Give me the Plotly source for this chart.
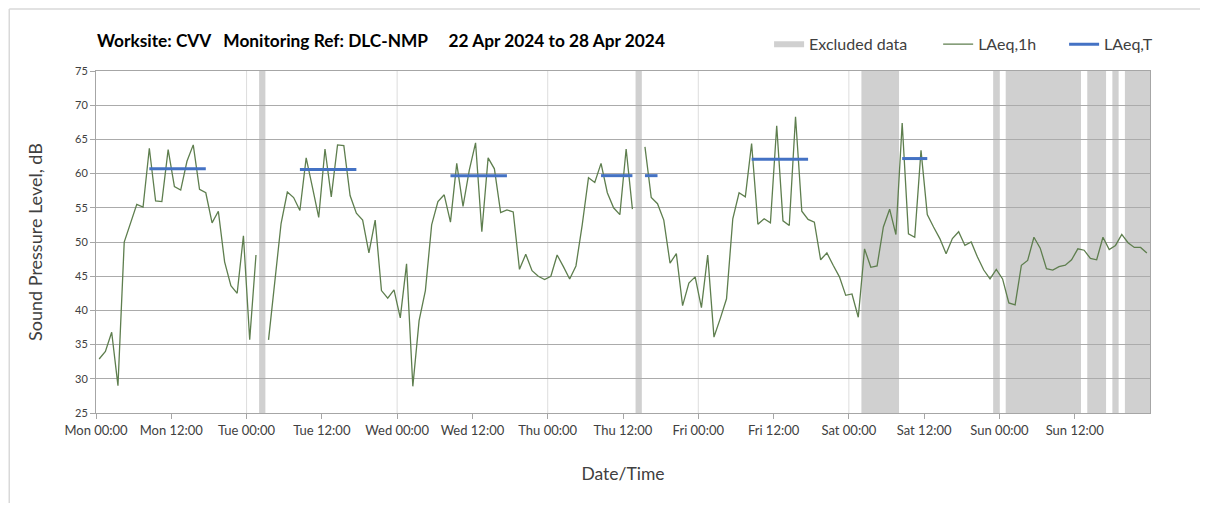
import plotly.graph_objects as go

# ---------------- data ----------------
# hourly LAeq,1h values, Mon 22 Apr 2024 00:00 .. Sun 28 Apr 2024 23:00 (None = excluded / missing)
hour_index = list(range(168))
laeq_1h = [
    32.9, 34.0, 36.8, 29.0, 50.0, 52.8, 55.5, 55.1, 63.7, 56.0, 55.9, 63.5,
    58.1, 57.6, 61.8, 64.2, 57.7, 57.2, 52.8, 54.5, 47.1, 43.6, 42.5, 50.9,
    35.7, 48.1, None, 35.7, 44.0, 52.7, 57.3, 56.5, 54.6, 62.3, 58.0, 53.6,
    63.6, 56.6, 64.2, 64.1, 56.8, 54.2, 53.2, 48.4, 53.2, 42.9, 41.8, 43.0,
    38.9, 46.8, 28.9, 38.5, 42.9, 52.5, 55.9, 56.9, 52.9, 61.5, 55.2, 60.5,
    64.5, 51.5, 62.3, 60.7, 54.3, 54.7, 54.4, 46.0, 48.2, 45.8, 45.0, 44.5,
    45.0, 48.1, 46.4, 44.6, 46.5, 52.5, 59.4, 58.7, 61.5, 57.2, 55.0, 54.0,
    63.6, 54.8, None, 63.9, 56.5, 55.6, 53.2, 46.9, 48.3, 40.7, 44.0, 44.9,
    40.4, 48.1, 36.1, 38.8, 41.7, 53.4, 57.2, 56.6, 64.4, 52.6, 53.4, 52.8,
    67.0, 53.1, 52.4, 68.3, 54.5, 53.3, 52.9, 47.4, 48.4, 46.6, 44.9, 42.2,
    42.4, 39.0, 49.0, 46.3, 46.5, 52.2, 54.8, 51.1, 67.4, 51.2, 50.7, 63.4,
    54.0, 52.2, 50.5, 48.3, 50.5, 51.5, 49.5, 50.0, 47.8, 45.9, 44.6, 46.0,
    44.6, 41.1, 40.8, 46.6, 47.3, 50.7, 49.1, 46.1, 45.9, 46.4, 46.6, 47.4,
    49.0, 48.8, 47.6, 47.4, 50.7, 48.9, 49.5, 51.1, 49.9, 49.2, 49.2, 48.4,
]

# LAeq,T periods (start hour, end hour, level)
laeq_t_start = [8, 32, 56, 80, 87, 104, 128]
laeq_t_end = [17, 41, 65, 85, 89, 113, 132]
laeq_t_value = [60.7, 60.6, 59.7, 59.7, 59.7, 62.1, 62.2]

# excluded data periods (start hour, end hour)
excl_start = [26, 86, 122, 143, 145, 158, 162, 164]
excl_end = [27, 87, 128, 144, 157, 161, 163, 168]

# axis ticks
tick_hours = [0, 12, 24, 36, 48, 60, 72, 84, 96, 108, 120, 132, 144, 156]
tick_labels = ["Mon 00:00", "Mon 12:00", "Tue 00:00", "Tue 12:00", "Wed 00:00",
               "Wed 12:00", "Thu 00:00", "Thu 12:00", "Fri 00:00", "Fri 12:00",
               "Sat 00:00", "Sat 12:00", "Sun 00:00", "Sun 12:00"]
day_boundaries = [24, 48, 72, 96, 120, 144]

title_text = ("Worksite: CVV\u00a0\u00a0\u00a0Monitoring Ref: DLC-NMP"
              "\u00a0\u00a0\u00a0\u00a0\u00a022 Apr 2024 to 28 Apr 2024")

# ---------------- figure ----------------
FONT = "Lato"
x_mid = [h + 0.5 for h in hour_index]

fig = go.Figure()

# legend entry for excluded data
fig.add_trace(go.Scatter(
    x=[None], y=[None], mode="none", fill="toself", fillcolor="#D0D0D0",
    name="Excluded data", legend="legend", hoverinfo="skip"))

fig.add_trace(go.Scatter(
    x=x_mid, y=laeq_1h, mode="lines", name="LAeq,1h",
    line=dict(color="#5E7E4E", width=1.3), connectgaps=False, legend="legend2"))

lt_x, lt_y = [], []
for s, e, v in zip(laeq_t_start, laeq_t_end, laeq_t_value):
    lt_x += [s + 0.5, e + 0.5, None]
    lt_y += [v, v, None]
fig.add_trace(go.Scatter(
    x=lt_x, y=lt_y, mode="lines", name="LAeq,T",
    line=dict(color="#4472C4", width=3), legend="legend3"))

shapes = []
for d in day_boundaries:
    shapes.append(dict(type="line", xref="x", yref="y", x0=d, x1=d, y0=25, y1=75,
                       line=dict(color="#DDDDDD", width=1), layer="below"))
for s, e in zip(excl_start, excl_end):
    shapes.append(dict(type="rect", xref="x", yref="y", x0=s, x1=e, y0=25, y1=75,
                       fillcolor="#D0D0D0", line=dict(width=0), layer="below"))
# outer chart border (top and left)
shapes.append(dict(type="line", xref="paper", yref="paper", x0=-0.0823, x1=1.1,
                   y0=1.1811, y1=1.1811, line=dict(color="#D9D9D9", width=1.5)))
shapes.append(dict(type="line", xref="paper", yref="paper", x0=-0.0823, x1=-0.0823,
                   y0=1.1811, y1=-0.4, line=dict(color="#D9D9D9", width=1.5)))

legend_common = dict(orientation="h", yanchor="middle", y=1.078, xanchor="left",
                     font=dict(family=FONT, size=16, color="#404040"),
                     bgcolor="rgba(0,0,0,0)", borderwidth=0)

fig.update_layout(
    width=1192, height=495,
    margin=dict(l=87.5, r=50, t=62.7, b=90.3),
    paper_bgcolor="white", plot_bgcolor="white",
    font=dict(family=FONT, color="#404040"),
    shapes=shapes,
    showlegend=True,
    legend=dict(x=0.6386, **legend_common),
    legend2=dict(x=0.7990, **legend_common),
    legend3=dict(x=0.9185, **legend_common),
    annotations=[dict(text="<b>" + title_text + "</b>", xref="paper", yref="paper",
                      x=-0.001, y=1.0898, xanchor="left", yanchor="middle",
                      showarrow=False, font=dict(family=FONT, size=17.3, color="#000000"))],
    xaxis=dict(range=[0, 168], tickmode="array", tickvals=tick_hours, ticktext=tick_labels,
               showgrid=False, zeroline=False, showline=True, linecolor="#A6A6A6",
               linewidth=1, mirror=True, ticks="outside", ticklen=5, tickcolor="#A6A6A6",
               tickfont=dict(family=FONT, size=13, color="#404040"),
               title=dict(text="Date/Time", standoff=31,
                          font=dict(family=FONT, size=17.5, color="#404040"))),
    yaxis=dict(range=[25, 75], dtick=5, tick0=25, showgrid=True, gridcolor="#ABABAB",
               gridwidth=1, zeroline=False, showline=True, linecolor="#A6A6A6",
               linewidth=1, mirror=True, ticks="outside", ticklen=5, tickcolor="#A6A6A6",
               tickfont=dict(family=FONT, size=11, color="#404040"),
               title=dict(text="Sound Pressure Level, dB", standoff=27,
                          font=dict(family=FONT, size=18, color="#404040"))),
)

fig.write_html("out.html")
